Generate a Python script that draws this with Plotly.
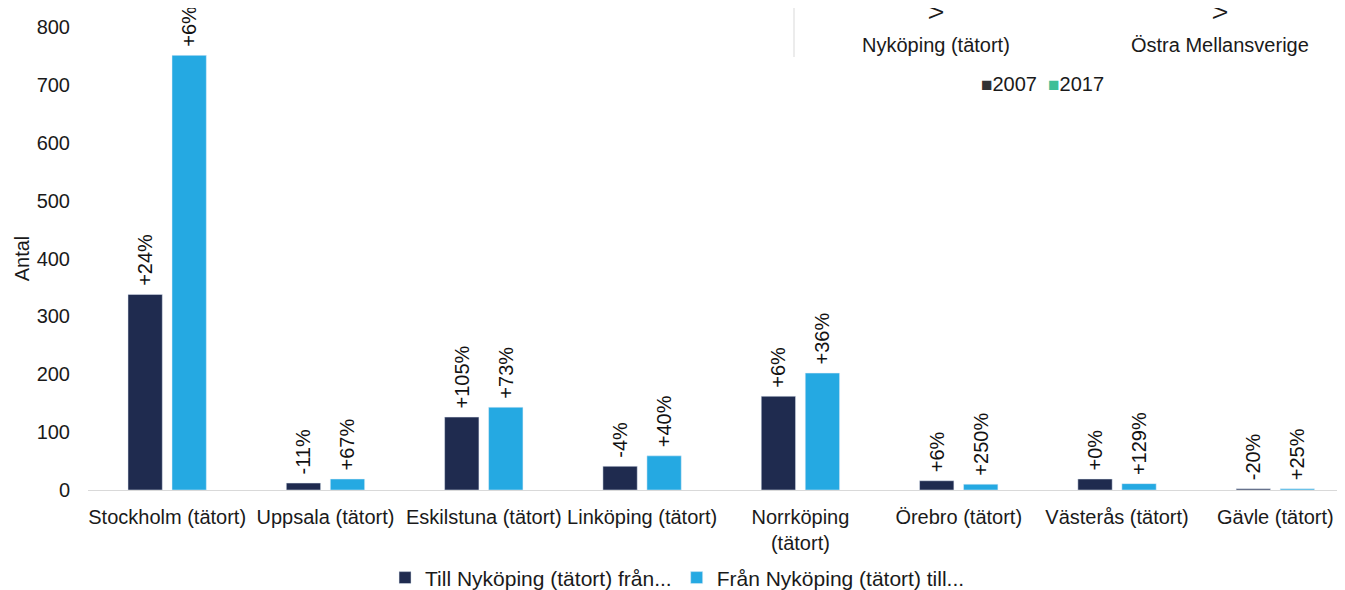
import plotly.graph_objects as go

# Flyttningar mellan Nyköping (tätort) och andra tätorter
orter = ["Stockholm (tätort)", "Uppsala (tätort)", "Eskilstuna (tätort)", "Linköping (tätort)",
         "Norrköping<br>(tätort)", "Örebro (tätort)", "Västerås (tätort)", "Gävle (tätort)"]
till_nyk = [338, 12, 126, 41, 162, 16, 19, 2]
fran_nyk = [751, 19, 143, 59, 202, 10, 11, 2]
till_pct = ["+24%", "-11%", "+105%", "-4%", "+6%", "+6%", "+0%", "-20%"]
fran_pct = ["+6%", "+67%", "+73%", "+40%", "+36%", "+250%", "+129%", "+25%"]

# rester av diagrammet ovanför (beskuret)
ovre_kat = ["Nyköping (tätort)", "Östra Mellansverige"]
ovre_ar = ["2007", "2017"]

FONT = "Liberation Sans, Arial, sans-serif"
morkbla = "#1f2b4f"
ljusbla = "#25a9e2"

# lite luft mellan stapel och etikett (texten är roterad)
pad = "\u00a0"

trace1 = go.Bar(
    x=orter, y=till_nyk, name="Till Nyköping (tätort) från...",
    marker_color=morkbla, text=[pad + t for t in till_pct], textposition="outside", textangle=-90,
    textfont=dict(size=20, color="#111"), cliponaxis=False, constraintext="none")

trace2 = go.Bar(
    x=orter, y=fran_nyk, name="Från Nyköping (tätort) till...",
    marker_color=ljusbla, text=[pad + t for t in fran_pct], textposition="outside", textangle=-90,
    textfont=dict(size=20, color="#111"), cliponaxis=False, constraintext="none")

fig = go.Figure(data=[trace1, trace2])

# sidan har 8 px marginal i body, därför 1337x582
fig.update_layout(
    width=1337, height=582,
    margin=dict(l=80, r=0, t=19, b=100, autoexpand=False),
    paper_bgcolor="white", plot_bgcolor="white",
    font=dict(family=FONT, size=20, color="#1a1a1a"),
    barmode="group", bargap=0.444, bargroupgap=0.22,
    showlegend=True,
    legend=dict(orientation="h", x=0.469, xanchor="center", y=-0.19, yanchor="middle",
                font=dict(size=21), itemwidth=30, traceorder="normal"),
)

fig.update_xaxes(range=[-0.5, 7.44], showline=True, linecolor="#d9d9d9", linewidth=1,
                 showgrid=False, ticks="", tickfont=dict(size=20), tickangle=0,
                 ticklabelstandoff=9, automargin=False)
fig.update_yaxes(range=[0, 800], dtick=100, showgrid=False, zeroline=False, showline=False,
                 ticks="", tickfont=dict(size=20), ticklabelstandoff=17, automargin=False,
                 title=dict(text="Antal", font=dict(size=20), standoff=1))

# det beskurna diagrammet uppe till höger (positioner i referensens pixlar)
def px_x(p):
    return (p - 88) / 1257

def px_y(p):
    return (490 - p) / 463

fig.add_shape(type="line", xref="paper", yref="paper",
              x0=px_x(794), x1=px_x(794), y0=px_y(57), y1=px_y(-5),
              line=dict(color="#d9d9d9", width=1))
for xc, kat in zip([936, 1220], ovre_kat):
    fig.add_annotation(text=kat, xref="paper", yref="paper", x=px_x(xc), y=px_y(45),
                       xanchor="center", yanchor="middle",
                       showarrow=False, font=dict(size=20, color="#1a1a1a"))
    fig.add_annotation(text="Va", xref="paper", yref="paper", x=px_x(xc), y=px_y(21),
                       xanchor="center", yanchor="bottom", textangle=-90,
                       showarrow=False, font=dict(size=20, color="#1a1a1a"))
fig.add_annotation(
    text=("<span style='color:#333333;font-size:19px'>■</span>" + ovre_ar[0] +
          "  <span style='color:#3cbf98;font-size:19px'>■</span>" + ovre_ar[1]),
    xref="paper", yref="paper", x=px_x(1042), y=px_y(84),
    xanchor="center", yanchor="middle", showarrow=False, font=dict(size=20, color="#1a1a1a"))

fig.write_html("out.html")
